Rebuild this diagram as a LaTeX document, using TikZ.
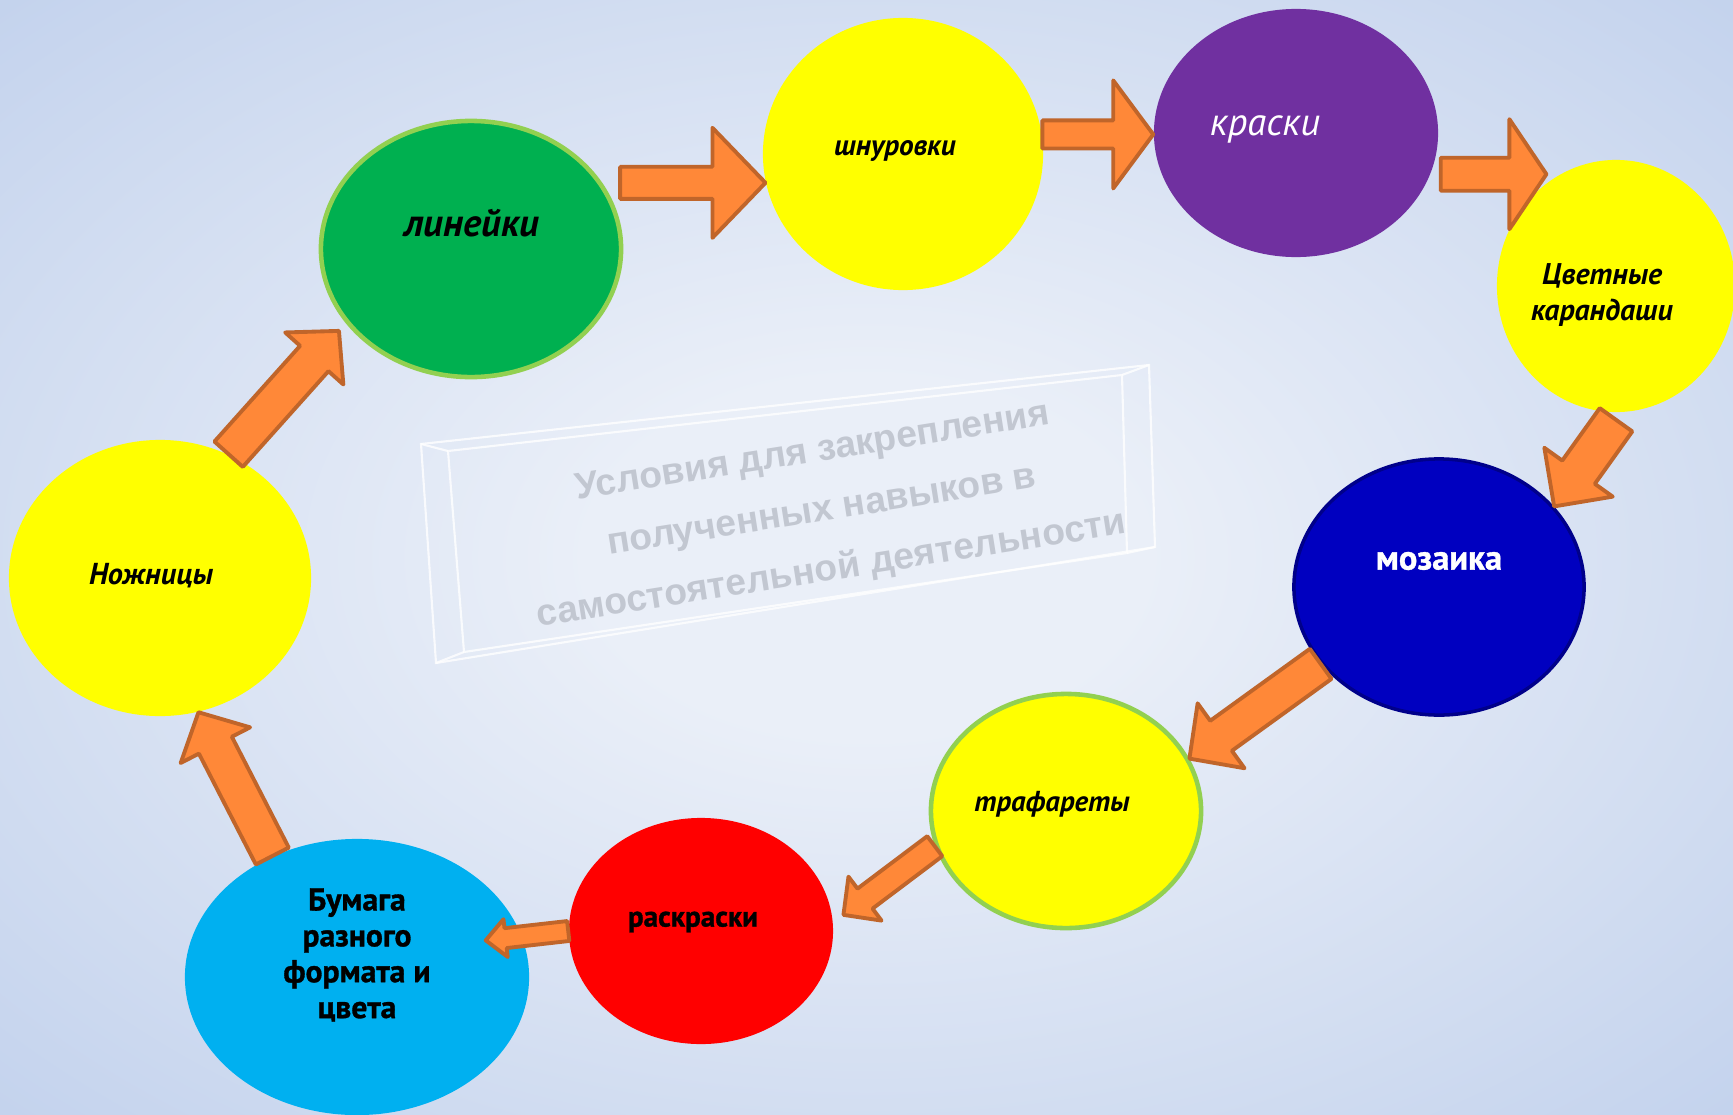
\documentclass[tikz,border=0pt]{standalone}
\usepackage{fontspec}
\setmainfont{PT Sans}[BoldFeatures={FakeBold=1}]
\newfontfamily\boxfont{Liberation Sans}
\usetikzlibrary{shapes.geometric,calc}

\definecolor{bgin}{HTML}{EAEFF8}
\definecolor{bgout}{HTML}{C0D0EC}
\definecolor{boxtext}{HTML}{C2C7D1}
\definecolor{lingreen}{HTML}{00B050}
\definecolor{rimgreen}{HTML}{92D050}
\definecolor{sunyellow}{HTML}{FFFF00}
\definecolor{plum}{HTML}{7030A0}
\definecolor{navyfill}{HTML}{0000C0}
\definecolor{navyrim}{HTML}{00008A}
\definecolor{skyblue}{HTML}{00B0F0}
\definecolor{arrowfill}{HTML}{FF8838}
\definecolor{arrowrim}{HTML}{C0652A}

\pgfdeclareradialshading{bgglow}{\pgfpoint{0bp}{0bp}}{color(0bp)=(bgin); color(8bp)=(bgin); color(38bp)=(bgout); color(50bp)=(bgout)}

\newcommand{\blockarrow}[5]{%
  \coordinate (tail) at #1;
  \coordinate (tip) at #2;
  \coordinate (neck) at ($(tip)!#5!(tail)$);
  \draw[flowarrow] ($(tail)!#3!90:(tip)$) -- ($(neck)!#3!90:(tip)$) -- ($(neck)!#4!90:(tip)$) -- (tip)
    -- ($(neck)!#4!-90:(tip)$) -- ($(neck)!#3!-90:(tip)$) -- ($(tail)!#3!-90:(tip)$) -- cycle;}

\begin{document}
\begin{tikzpicture}[x=0.01cm, y=-0.01cm,
  bubble/.style 2 args={ellipse, inner sep=0pt, minimum width=#1, minimum height=#2},
  lbl/.style={inner sep=0pt, align=center, node font=\fontsize{#1}{10.2}\selectfont, font=\bfseries\itshape},
  flowarrow/.style={fill=arrowfill, draw=arrowrim, line width=1.1pt, line join=round}]
	\useasboundingbox (0,0) rectangle (1733,1115);
	\shade[shading=bgglow] (0,0) rectangle (1733,1115);
	\draw[white, line width=0.6pt, opacity=0.8] (421,444) -- (1149,365) -- (1155,547) -- (436,663) -- cycle;
	\draw[white, line width=0.6pt, opacity=0.8] (448,451) -- (1122,375) -- (1127,553) -- (464,652) -- cycle;
	\draw[white, line width=0.6pt, opacity=0.8] (421,444) -- (448,451) (1149,365) -- (1122,375) (1155,547) -- (1127,553) (436,663) -- (464,652);
	\node[rotate=9, text=boxtext, align=center, font=\boxfont\bfseries\fontsize{10.6}{17}\selectfont] (title) at (822,512) {Условия для закрепления\\полученных навыков в\\самостоятельной деятельности};
	\node[bubble={30mm}{25.6mm}, fill=lingreen, draw=rimgreen, line width=1.3pt] (lin) at (471,249) {};
	\node[bubble={28mm}{27.2mm}, fill=sunyellow] (shn) at (903,154) {};
	\node[bubble={28.4mm}{24.8mm}, fill=plum] (kra) at (1296,133) {};
	\node[bubble={23.8mm}{25.2mm}, fill=sunyellow] (cvet) at (1616,286) {};
	\node[bubble={29mm}{25.6mm}, fill=navyfill, draw=navyrim, line width=1pt] (moz) at (1439,587) {};
	\node[bubble={27mm}{23.4mm}, fill=sunyellow, draw=rimgreen, line width=1.3pt] (traf) at (1066,811) {};
	\node[bubble={26.4mm}{22.6mm}, fill=red] (rask) at (701,931) {};
	\node[bubble={34.4mm}{27.6mm}, fill=skyblue] (bum) at (357,977) {};
	\node[bubble={30.2mm}{27.6mm}, fill=sunyellow] (nozh) at (160,578) {};
	\node[lbl=11] (linT) at (472,223) {линейки};
	\node[lbl=8.3] (shnT) at (895,151) {шнуровки};
	\node[lbl=11, font=\itshape, text=white] (kraT) at (1265,129) {краски};
	\node[lbl=8.5] (cvetT) at (1602,295) {Цветные\\карандаши};
	\node[lbl=9.8, font=\bfseries, text=white] (mozT) at (1439,561) {мозаика};
	\node[lbl=8.2] (trafT) at (1052,804) {трафареты};
	\node[lbl=8.3, font=\bfseries] (raskT) at (693,922) {раскраски};
	\node[lbl=9, font=\bfseries] (bumT) at (357,955) {Бумага\\разного\\формата и\\цвета};
	\node[lbl=8.6] (nozhT) at (151,576) {Ножницы};
	\blockarrow{([xshift=1.4mm,yshift=0.6mm]lin.24)}{(tail -| shn.192)}{1.6mm}{5.5mm}{5.3mm}
	\blockarrow{(shn.8)}{(tail -| kra.181)}{1.4mm}{5.4mm}{4mm}
	\blockarrow{([xshift=1mm]kra.-17)}{(tail -| cvet.124)}{1.65mm}{5.5mm}{3.7mm}
	\blockarrow{([yshift=-0.7mm]cvet.south)}{(moz.35)}{2mm}{4.2mm}{4.2mm}
	\blockarrow{(moz.213)}{(traf.23)}{1.85mm}{4mm}{3.9mm}
	\blockarrow{(traf.195)}{([xshift=1.1mm]rask.7)}{1.25mm}{2.75mm}{2.7mm}
	\blockarrow{(rask.west)}{([xshift=-3.4mm,yshift=-1mm]bum.16)}{1mm}{1.9mm}{2mm}
	\blockarrow{(bum.125)}{(nozh.-74)}{1.85mm}{3.9mm}{3.7mm}
	\blockarrow{(nozh.61)}{([xshift=-0.9mm,yshift=-0.5mm]lin.212)}{1.9mm}{3.9mm}{3.7mm}
\end{tikzpicture}
\end{document}
